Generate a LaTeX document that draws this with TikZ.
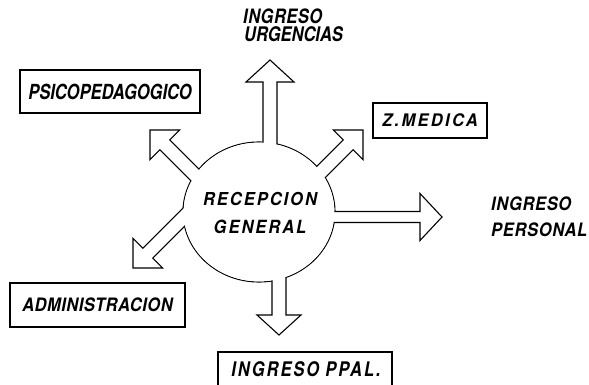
\documentclass[tikz,border=0pt]{standalone}
\usepackage{fontspec}
\usepackage{graphicx}
\setmainfont{TeX Gyre Heros}
\usetikzlibrary{shapes.geometric}
\newcommand{\vsc}[2]{\scalebox{1}[#1]{#2}}
\tikzset{
  lbl/.style={font=\fontsize{16.5}{18}\selectfont\bfseries\itshape, inner sep=0pt},
  boxnode/.style={draw, line width=1.1pt, inner sep=0pt},
  pics/barrow/.style n args={4}{code={%
    % #1 shaft length, #2 head length, #3 shaft half width, #4 head half width
    \fill[white] (0,0) -- (-#2,#4) -- (-#2,#3) -- (-#1,#3) -- (-#1,-#3) -- (-#2,-#3) -- (-#2,-#4) -- cycle;
    \draw[line width=1.1pt, line join=miter] (-#1,#3) -- (-#2,#3) -- (-#2,#4) -- (0,0) -- (-#2,-#4) -- (-#2,-#3) -- (-#1,-#3);
  }}
}
\begin{document}
\begin{tikzpicture}[x=1pt,y=-1pt]
\useasboundingbox (0,0) rectangle (589,385);
\clip (0,0) rectangle (589,385);
\fill[white] (0,0) rectangle (589,385);

% central ellipse
\node[draw, ellipse, line width=1.1pt, minimum width=152pt, minimum height=140pt, inner sep=0pt] (rec) at (259,212) {};

% arrow tips
\coordinate (tU)  at (270,60);
\coordinate (tR)  at (442,217);
\coordinate (tD)  at (279,335);
\coordinate (tUL) at (150,130);
\coordinate (tUR) at (363,130);
\coordinate (tLL) at (133,268);

\pic[rotate=90]  at (tU)  {barrow={140}{22}{7}{24}};
\pic[rotate=0]   at (tR)  {barrow={175}{22}{5.5}{23.5}};
\pic[rotate=-90] at (tD)  {barrow={115}{20}{7}{22}};
\pic[rotate=135] at (tUL) {barrow={110}{21}{7}{21}};
\pic[rotate=45]  at (tUR) {barrow={110}{21}{7}{21}};
\pic[rotate=225] at (tLL) {barrow={100}{21}{7}{21}};

% clear ellipse interior
\fill[white] (rec.center) ellipse [x radius=75.4pt, y radius=69.4pt];

% text in ellipse
\node[lbl] (rect1) at (260,199.5) {\vsc{1.08}{\addfontfeature{LetterSpace=12}RECEPCION}};
\node[lbl] (rect2) at (260,227) {\vsc{1.1}{\addfontfeature{LetterSpace=12}GENERAL}};

% boxes
\node[boxnode, minimum width=180pt, minimum height=43pt] (psi) at (110,91.5) {};
\node[lbl] at (psi.center) {\vsc{1.26}{PSICOPEDAGOGICO}};

\node[boxnode, minimum width=114pt, minimum height=35pt] (zm) at (430,120.5) {};
\node[lbl] at (zm.center) {\vsc{1.05}{\addfontfeature{LetterSpace=14}Z.MEDICA}};

\node[boxnode, minimum width=175pt, minimum height=44pt] (adm) at (97.5,305) {};
\node[lbl] at (adm.center) {\vsc{1.12}{\addfontfeature{LetterSpace=3}ADMINISTRACION}};

\node[boxnode, minimum width=174pt, minimum height=46pt] (ppal) at (305,375) {};
\node[lbl] at (306,369.5) {\vsc{1.22}{\addfontfeature{LetterSpace=12}INGRESO\hspace{6pt}PPAL.}};

% free labels
\node[lbl, anchor=west] (urg1) at (243,16.5) {\vsc{1.2}{\addfontfeature{LetterSpace=3}INGRESO}};
\node[lbl, anchor=west] (urg2) at (244,34.5) {\vsc{1.22}{URGENCIAS}};
\node[lbl, anchor=west] (per1) at (491,203.5) {\vsc{1.12}{\addfontfeature{LetterSpace=4}INGRESO}};
\node[lbl, anchor=west] (per2) at (491,230) {\vsc{1.12}{\addfontfeature{LetterSpace=4}PERSONAL}};
\end{tikzpicture}
\end{document}
